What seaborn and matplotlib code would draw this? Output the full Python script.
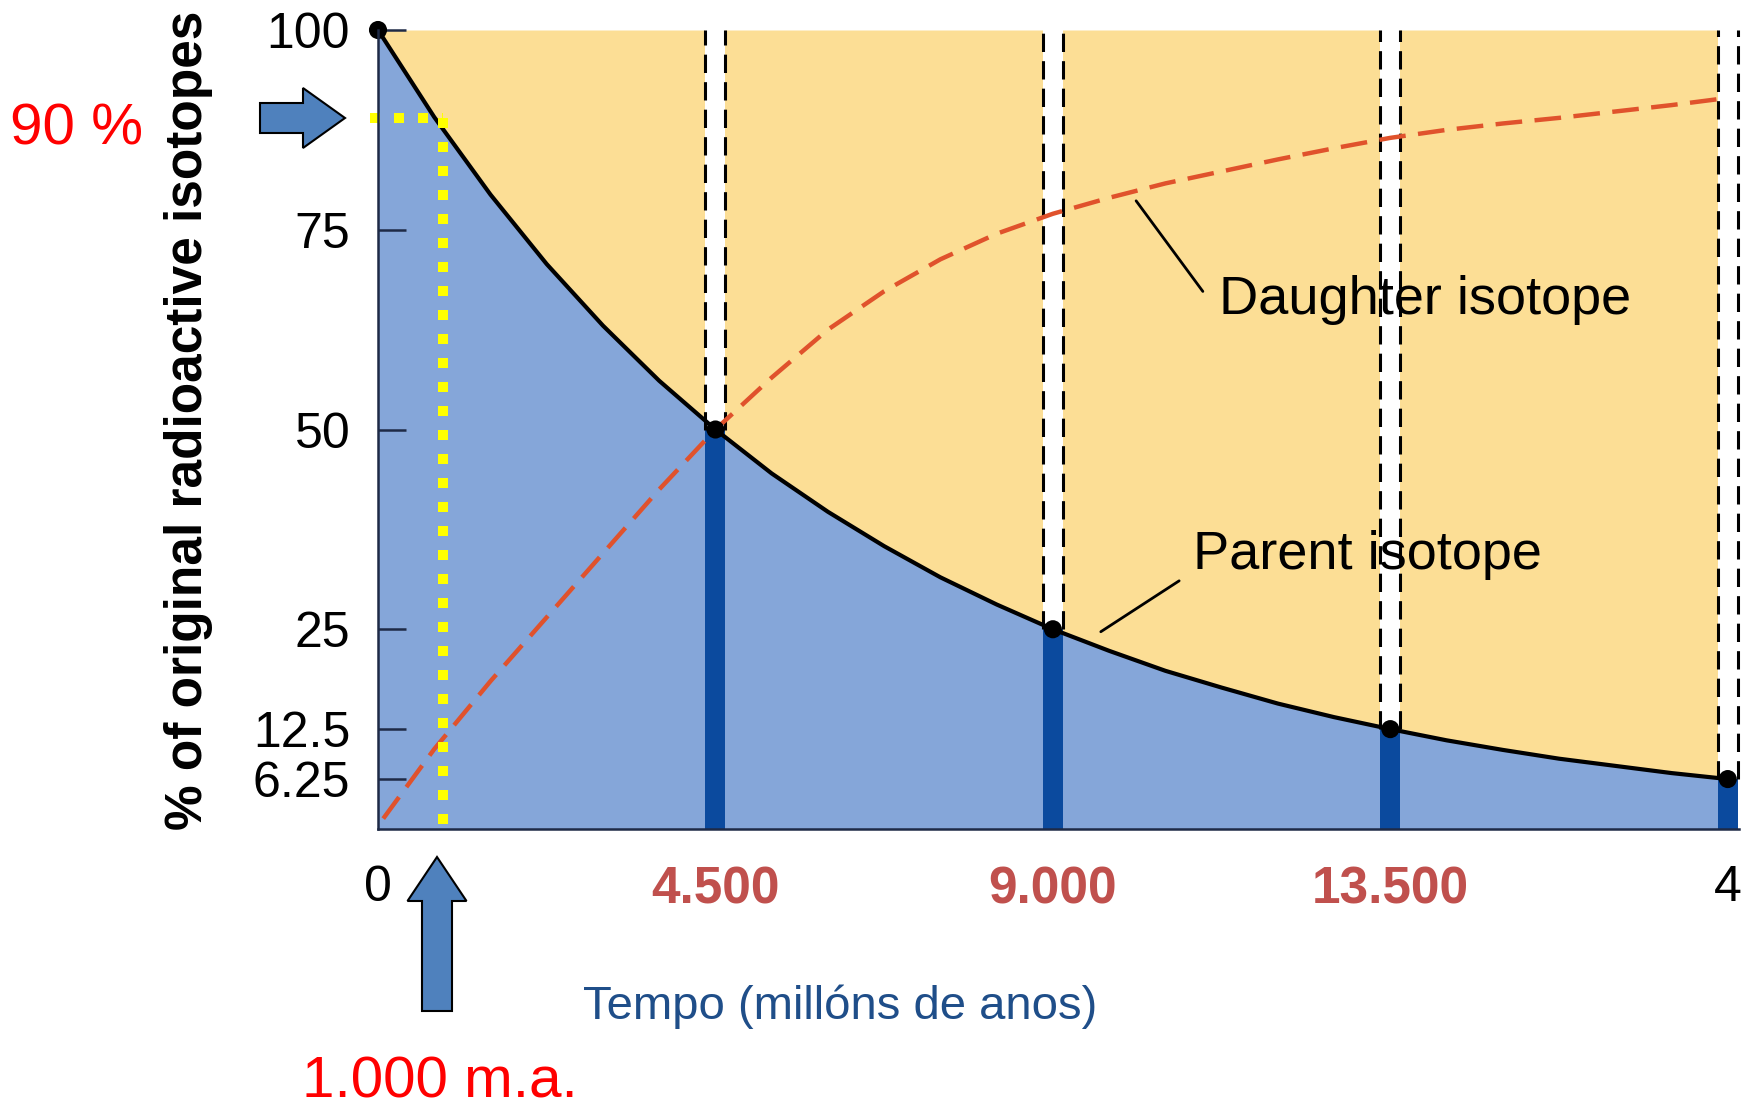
import pandas as pd
import matplotlib.pyplot as plt
import seaborn as sns
from matplotlib.patches import FancyArrow
from matplotlib.transforms import IdentityTransform

# values (time in millions of years, % of isotopes)
time_myr = [0, 750, 1500, 2250, 3000, 3750, 4500, 5250, 6000, 6750, 7500, 8250, 9000,
            9750, 10500, 11250, 12000, 12750, 13500, 14250, 15000, 15750, 16500, 17250, 18000]
parent_pct = [100, 89.1, 79.4, 70.7, 63.0, 56.1, 50, 44.5, 39.7, 35.4, 31.5, 28.1, 25,
              22.3, 19.8, 17.7, 15.7, 14.0, 12.5, 11.1, 9.9, 8.8, 7.9, 7.0, 6.25]
daughter_time = [70, 750, 1500, 2250, 3000, 3750, 4500, 5250, 6000, 6750, 7500, 8250, 9000,
                 9750, 10500, 11250, 12000, 12750, 13500, 14250, 15000, 15750, 16500, 17250, 18000]
daughter_pct = [1.3, 10, 18.5, 26.5, 34.5, 42.5, 50, 56.5, 62.5, 67.3, 71.3, 74.5, 77,
                79, 80.8, 82.3, 83.8, 85.2, 86.5, 87.5, 88.3, 89, 89.8, 90.6, 91.5]

half_life_time = [0, 4500, 9000, 13500, 18000]
half_life_pct = [100, 50, 25, 12.5, 6.25]

y_ticks = [100, 75, 50, 25, 12.5, 6.25]
y_tick_labels = ["100", "75", "50", "25", "12.5", "6.25"]
x_tick_labels = ["0", "4.500", "9.000", "13.500", "4"]

marker_time = 870
marker_pct = 89

sns.set_theme(style="white")
plt.rcParams['font.family'] = ['Liberation Sans', 'DejaVu Sans']

BLUE = "#85A6D9"
YELLOW = "#FCDE95"
BAR = "#0B4A9E"
NAVY = "#1E2A46"
RED_LINE = "#E0522C"
TICK_RED = "#C0504D"

df = pd.DataFrame({"t": time_myr, "parent": parent_pct})
dd = pd.DataFrame({"t": daughter_time, "daughter": daughter_pct})
dots = pd.DataFrame({"t": half_life_time, "p": half_life_pct})

fig = plt.figure(figsize=(17.52, 11.09), dpi=100)
ax = fig.add_axes([378 / 1752, 1 - 829 / 1109, 1361 / 1752, 799 / 1109])

ax.fill_between(df["t"], df["parent"], 100, color=YELLOW, lw=0, zorder=1)
ax.fill_between(df["t"], 0, df["parent"], color=BLUE, lw=0, zorder=1)

bar_t = half_life_time[1:]
bar_p = half_life_pct[1:]
bw = 267
ax.bar(bar_t, bar_p, width=bw, color=BAR, edgecolor="none", lw=0, zorder=2)
ax.bar(bar_t, [100 - p for p in bar_p], bottom=bar_p, width=bw, color="white",
       edgecolor="none", lw=0, zorder=2)
for t, p in zip(bar_t, bar_p):
    ax.vlines([t - bw / 2, t + bw / 2], p, 100, colors="black", lw=2.2,
              linestyles=(0, (6, 3)), zorder=3, clip_on=False)

sns.lineplot(data=dd, x="t", y="daughter", ax=ax, color=RED_LINE, lw=3.2,
             dashes=False, zorder=4)
ax.lines[-1].set_dashes((6, 2.8))
sns.lineplot(data=df, x="t", y="parent", ax=ax, color="black", lw=3, zorder=5)
sns.scatterplot(data=dots, x="t", y="p", ax=ax, color="black", s=170, zorder=6,
                edgecolor="none", clip_on=False)

# yellow dotted guide at 1.000 m.a. / 90 %
ax.plot([-110, marker_time], [marker_pct, marker_pct], color="#FFFF00", lw=7.2,
        ls=(0, (1, 1.4)), zorder=7, clip_on=False)
ax.plot([marker_time, marker_time], [marker_pct, 0], color="#FFFF00", lw=7.2,
        ls=(0, (1, 1.4)), zorder=7)

# leader lines and labels
ax.annotate("", xy=(10088, 78.9), xytext=(11022, 67),
            arrowprops=dict(arrowstyle="-", lw=2, color="black"), zorder=8)
ax.text(11209, 66.25, "Daughter isotope", fontsize=39, color="black",
        ha="left", va="center", zorder=8)
ax.annotate("", xy=(9608, 24.5), xytext=(10715, 31.25),
            arrowprops=dict(arrowstyle="-", lw=2, color="black"), zorder=8)
ax.text(10875, 34.25, "Parent isotope", fontsize=39, color="black",
        ha="left", va="center", zorder=8)

ax.set_xlim(0, 18150)
ax.set_ylim(0, 100)
ax.set_yticks(y_ticks)
ax.set_yticklabels(y_tick_labels, fontsize=36, color="black")
ax.tick_params(axis="y", left=True, direction="in", length=20, width=1.8,
               color=NAVY, pad=20)
ax.set_xticks(half_life_time)
ax.set_xticklabels(x_tick_labels, fontsize=36)
ax.tick_params(axis="x", length=0, pad=26)
for lbl, txt in zip(ax.get_xticklabels(), x_tick_labels):
    if txt in ("0", "4"):
        lbl.set_color("black")
    else:
        lbl.set_color(TICK_RED)
        lbl.set_fontweight("bold")
        lbl.set_fontsize(37)
ax.set_axisbelow(False)

for s in ["top", "right"]:
    ax.spines[s].set_visible(False)
for s in ["left", "bottom"]:
    ax.spines[s].set_color(NAVY)
    ax.spines[s].set_linewidth(1.8)
    ax.spines[s].set_zorder(9)

ax.set_ylabel("% of original radioactive isotopes", fontsize=37, fontweight="bold",
              color="black")
ax.yaxis.set_label_coords(-0.121, 0.511)
ax.set_xlabel("Tempo (millóns de anos)", fontsize=34, color="#1F4E89")
ax.xaxis.set_label_coords(0.3395, -0.195)

fig.text(77 / 1752, 1 - 129 / 1109, "90 %", fontsize=42, color="#FF0000",
         ha="center", va="center")
fig.text(440 / 1752, 1 - 1083 / 1109, "1.000 m.a.", fontsize=42, color="#FF0000",
         ha="center", va="center")

# blue block arrows
fig.add_artist(FancyArrow(260, 1109 - 118, 85, 0, width=30, head_width=60, head_length=42,
                          length_includes_head=True, fc="#4F81BD", ec="black", lw=1.5,
                          transform=IdentityTransform()))
fig.add_artist(FancyArrow(437, 1109 - 1011, 0, 154, width=30, head_width=59, head_length=44,
                          length_includes_head=True, fc="#4F81BD", ec="black", lw=1.5,
                          transform=IdentityTransform()))

fig.savefig("out.png", dpi=100)
